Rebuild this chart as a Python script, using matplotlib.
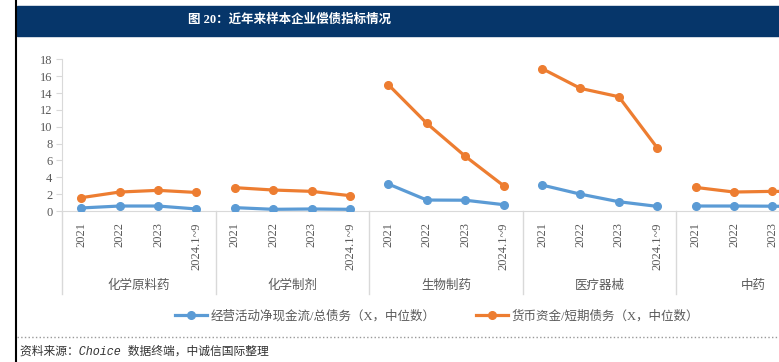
import numpy as np
from matplotlib import pyplot as plt
from matplotlib.lines import Line2D

plt.rcParams['font.family'] = ['Liberation Serif', 'Noto Sans CJK SC', 'DejaVu Sans']

groups = ['化学原料药', '化学制剂', '生物制药', '医疗器械', '中药']
periods = ['2021', '2022', '2023', '2024.1~9']

cash_flow_debt = [
    [0.36, 0.59, 0.59, 0.24],
    [0.40, 0.20, 0.24, 0.20],
    [3.20, 1.30, 1.28, 0.75],
    [3.08, 2.00, 1.10, 0.55],
    [0.59, 0.59, 0.57, 0.50],
]
cash_short_debt = [
    [1.58, 2.25, 2.45, 2.20],
    [2.77, 2.49, 2.33, 1.82],
    [14.98, 10.40, 6.50, 3.00],
    [16.90, 14.55, 13.56, 7.50],
    [2.80, 2.25, 2.33, 2.30],
]
series_names = ['经营活动净现金流/总债务（X，中位数）', '货币资金/短期债务（X，中位数）']
colors = ['#5B9BD5', '#ED7D31']

W, H = 779, 362
fig = plt.figure(figsize=(W / 100, H / 100), dpi=100)

# title bar
fig.patches.append(plt.Rectangle((17 / W, 1 - 36 / H), 1, 30 / H, transform=fig.transFigure,
                                 color='#06366a', zorder=0))
fig.text(290 / W, 1 - 20 / H, '图 20：近年来样本企业偿债指标情况', color='white',
         fontsize=9, fontweight='bold', ha='center', va='center')

# frame lines
fig.add_artist(Line2D([16 / W, 16 / W], [0, 1], color='black', lw=1.5, transform=fig.transFigure))
fig.add_artist(Line2D([17 / W, 1], [1 - 337 / H] * 2, color='#999999', lw=1, ls=':',
                      transform=fig.transFigure))

left, right = 62, 779
y0, y18 = 211, 59.3
ax = fig.add_axes([left / W, 1 - y0 / H, (right - left) / W, (y0 - y18) / H])
step = 38.4

for g in range(len(groups)):
    xs = np.arange(4) + 4 * g
    for vals, c in zip([cash_flow_debt, cash_short_debt], colors):
        ax.plot(xs, vals[g], color=c, lw=2.3, marker='o', ms=5.5, zorder=3)

ticks = np.arange(4 * len(groups))
ax.set_xticks(ticks)
ax.set_xticklabels(periods * len(groups), rotation=90, va='top', color='#595959', fontsize=9)
ax.set_yticks(np.arange(0, 19, 2))
ax.set_xlim(-0.5, -0.5 + (right - left) / step)
ax.set_ylim(0, 18)
ax.tick_params(axis='x', length=0, pad=8)
ax.tick_params(axis='y', length=4, color='#d9d9d9', labelcolor='#595959', labelsize=9, pad=3)

for s in ['top', 'right']:
    ax.spines[s].set_visible(False)
for s in ['left', 'bottom']:
    ax.spines[s].set_color('#d9d9d9')

depth = (294 - y0) / (y0 - y18)
for k in range(len(groups)):
    xsep = 4 * k - 0.5
    ax.plot([xsep, xsep], [0, -depth], color='#d9d9d9', lw=1,
            transform=ax.get_xaxis_transform(), clip_on=False)
    ax.text(4 * k + 1.5, -(286 - y0) / (y0 - y18), groups[k], transform=ax.get_xaxis_transform(),
            ha='center', va='center', fontsize=9, color='#595959')

handles = [Line2D([], [], color=c, lw=2.3, marker='o', ms=5.5) for c in colors]
fig.legend(handles, series_names, loc='center', bbox_to_anchor=(437 / W, 1 - 316 / H), ncol=2,
           frameon=False, fontsize=9, handlelength=2.6, columnspacing=3.2,
           labelcolor='#595959', handletextpad=0.3)

fig.text(20 / W, 1 - 352 / H, '资料来源：Choice 数据终端，中诚信国际整理', fontsize=8.5,
         family=['Liberation Mono', 'Noto Sans CJK SC'], style='italic',
         ha='left', va='center', color='#333333')

fig.savefig('out.png', dpi=100)
